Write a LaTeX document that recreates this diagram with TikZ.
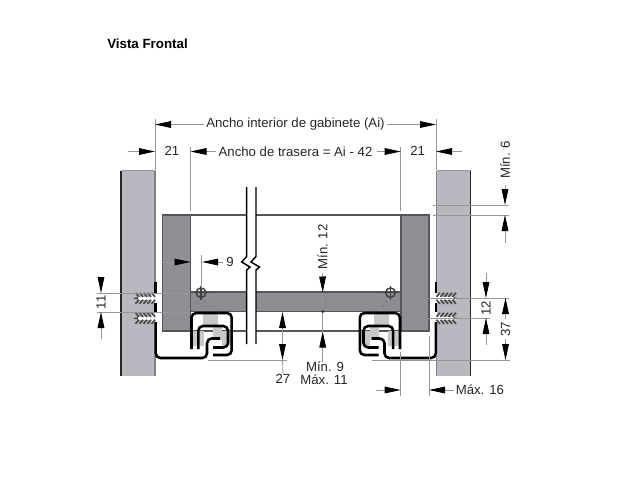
\documentclass[tikz,border=0pt]{standalone}
\usepackage{fontspec}
\setmainfont{Liberation Sans}
\usetikzlibrary{arrows.meta}
\definecolor{wallc}{HTML}{B8B8C0}
\definecolor{blockc}{HTML}{909094}
\definecolor{bandc}{HTML}{8C8C92}
\definecolor{railg}{HTML}{C8C8CA}
\definecolor{edgec}{HTML}{55555A}
\definecolor{dimc}{HTML}{969696}
\definecolor{inkc}{HTML}{26262A}
\tikzset{
  x=0.75pt,y=-0.75pt,
  dimline/.style={draw=dimc,line width=0.6pt},
  dimhead/.style={draw=dimc,line width=0.6pt,-{Triangle[length=12pt,width=5pt,color=black,fill=black]}},
  lab/.style={font=\fontsize{9.9pt}{11pt}\selectfont,text=inkc,inner sep=0pt},
  railline/.style={draw=black,line width=1.9pt,rounded corners=3.5pt,line cap=butt},
  outline/.style={draw=edgec,line width=1pt},
}
\newcommand{\myscrew}[1]{%
  \fill[white] (136,#1-1.3) rectangle (161,#1+1.3);
  \fill[white] (151,#1-4) -- (156,#1-4) -- (161,#1-1.3) -- (161,#1+1.3) -- (156,#1+4) -- (151,#1+4) -- cycle;
  \foreach \sx in {135.5,139.5,143.5,147.5,151.5}{
    \draw[color=black!70,line width=1.3pt] (\sx,#1-5.5) -- (\sx+3.5,#1-1.5);
    \draw[color=black!70,line width=1.3pt] (\sx,#1+5.5) -- (\sx+3.5,#1+1.5);
  }
  \fill[black!70] (133,#1) -- (138,#1-1.5) -- (138,#1+1.5) -- cycle;
}
\newcommand{\myhalf}{%
  % wall
  \fill[wallc] (121,170.5) rectangle (155,376);
  \draw[inkc,line width=1.2pt] (121,170.5) -- (121,376);
  \draw[black!50,line width=0.8pt] (155,170.5) -- (155,282);
  \draw[black!50,line width=0.8pt] (155,355) -- (155,376);
  \draw[black!40,line width=0.5pt] (121,170.5) -- (155,170.5);
  % block
  \fill[blockc] (162.5,215) rectangle (190.5,331);
  \draw[outline] (162.5,331) -- (162.5,215) -- (190.5,215) -- (190.5,331) -- cycle;
  % screws
  \myscrew{298.3}
  \myscrew{318.3}
  % rail light parts
  \fill[railg] (203,314) rectangle (218,325);
  \fill[railg] (192,331) rectangle (204,346);
  \fill[railg] (213,326) rectangle (222,340);
  \fill[railg] (222,331) rectangle (231,346);
  % cabinet member
  \draw[railline] (155.7,322) -- (155.7,358) -- (207,358) -- (207,338.5) -- (220,338.5);
  \draw[draw=black,line width=1.9pt] (155.7,282) -- (155.7,293);
  \draw[draw=black,line width=1.9pt] (155.7,303) -- (155.7,312);
  % drawer member
  \draw[railline] (191.5,349) -- (191.5,313) -- (231.7,313) -- (231.7,355) -- (213,355);
  \draw[railline] (198.3,349) -- (198.3,326) -- (228,326) -- (228,347.5) -- (213,347.5);
  % drilling mark
  \draw[black!75,line width=1.1pt] (201,292.7) circle[radius=4.8];
  \draw[black!75,line width=0.9pt] (193.5,292.7) -- (208.5,292.7) (201,285.5) -- (201,300);
  \fill[black!55] (197,301.5) circle[radius=0.8] (205,301.5) circle[radius=0.8] (208,306) circle[radius=0.8];
}
\begin{document}
\begin{tikzpicture}
\useasboundingbox[fill=white] (0,0) rectangle (640,480);
\node[inner sep=0pt,anchor=west,font=\fontsize{10pt}{11pt}\selectfont\bfseries] (title) at (107,44) {Vista Frontal};

% back panel top, gray band, lower line
\draw[edgec,line width=1.2pt] (190,215) -- (246.7,215) (256,215) -- (401,215);
\fill[bandc] (190,292) rectangle (246.7,311.5);
\fill[bandc] (256,292) rectangle (401,311.5);
\draw[edgec,line width=1pt] (190,292) -- (246.7,292) (256,292) -- (401,292);
\draw[edgec,line width=1pt] (190,311.5) -- (246.7,311.5) (256,311.5) -- (401,311.5);
\draw[edgec,line width=0.9pt] (190,331) -- (246.7,331) (256,331) -- (401,331);

\myhalf
\begin{scope}[shift={(591.5,0)},xscale=-1]
\myhalf
\end{scope}

% break lines
\draw[black,line width=1.1pt,line join=miter]
  (246.7,187) -- (246.7,256.5) -- (241.7,262) -- (250,267) -- (246.7,270) -- (246.7,344);
\draw[black,line width=1.1pt,line join=miter]
  (256,187) -- (256,256.5) -- (251,262) -- (259.5,267) -- (256,270) -- (256,344);

% extension lines
\draw[dimline] (155,119) -- (155,170);
\draw[dimline] (436,119) -- (436,170);
\draw[dimline] (190.5,147) -- (190.5,211);
\draw[dimline] (400.7,147) -- (400.7,211);
\draw[dimline] (433,205) -- (509,205);
\draw[dimline] (433,215) -- (509,215);
\draw[dimline] (97,293) -- (190,293);
\draw[dimline] (97,312) -- (190,312);
\draw[dimline] (428,298) -- (509,298);
\draw[dimline] (428,318) -- (490,318);
\draw[dimline] (208,360) -- (287,360);
\draw[dimline] (372,360) -- (510,360);
\draw[dimline] (201,255) -- (201,288);
\draw[dimline] (400.7,352) -- (400.7,396);
\draw[dimline] (429,336) -- (429,396);

% top dimensions
\node[lab] (ai) at (295.5,124.5) {Ancho interior de gabinete (Ai)};
\coordinate (aiL) at (155,124.5); \coordinate (aiR) at (436,124.5);
\draw[dimhead] (ai.west) ++(-2,0) -- (aiL);
\draw[dimhead] (ai.east) ++(2,0) -- (aiR);
\node[lab] (tras) at (295.5,151.5) {Ancho de trasera = Ai - 42};
\coordinate (trL) at (190.5,151.5); \coordinate (trR) at (400.7,151.5);
\draw[dimhead] (tras.west) ++(-2,0) -- (trL);
\draw[dimhead] (tras.east) ++(4,0) -- (trR);
\node[lab] (a21) at (172,151) {21};
\node[lab] (b21) at (417.7,151) {21};
\coordinate (a21t) at (128,151.5); \coordinate (a21h) at (155,151.5);
\coordinate (b21t) at (462,151.5); \coordinate (b21h) at (436,151.5);
\draw[dimhead] (a21t) -- (a21h);
\draw[dimhead] (b21t) -- (b21h);

% Min 6
\node[lab,rotate=90] (min6) at (505,160) {Mín. 6};
\coordinate (m6a) at (505,205); \coordinate (m6b) at (505,215); \coordinate (m6c) at (505,243);
\draw[dimhead] (min6.west) ++(0,6) -- (m6a);
\draw[dimhead] (m6c) -- (m6b);

% 9
\node[lab] (n9) at (230,262) {9};
\coordinate (n9a) at (162,262); \coordinate (n9b) at (190.5,262); \coordinate (n9c) at (202,262);
\draw[dimhead] (n9a) -- (n9b);
\draw[dimhead] (n9.west) ++(-3,0) -- (n9c);

% 11
\node[lab,rotate=90] (n11) at (101,302.5) {11};
\coordinate (n11a) at (101,277); \coordinate (n11b) at (101,293);
\coordinate (n11c) at (101,339); \coordinate (n11d) at (101,312);
\draw[dimhead] (n11a) -- (n11b);
\draw[dimhead] (n11c) -- (n11d);

% 12 right
\node[lab,rotate=90] (n12) at (486,308) {12};
\coordinate (n12a) at (486,273); \coordinate (n12b) at (486,298);
\coordinate (n12c) at (486,345); \coordinate (n12d) at (486,318);
\draw[dimhead] (n12a) -- (n12b);
\draw[dimhead] (n12c) -- (n12d);

% 37
\node[lab,rotate=90] (n37) at (505.5,329) {37};
\coordinate (n37a) at (505.5,298); \coordinate (n37b) at (505.5,360);
\draw[dimhead] (n37.east) ++(0,-2) -- (n37a);
\draw[dimhead] (n37.west) ++(0,2) -- (n37b);

% 27
\node[lab] (n27) at (283,379) {27};
\coordinate (n27a) at (282.5,312); \coordinate (n27b) at (282.5,360); \coordinate (n27m) at (282.5,336);
\draw[dimhead] (n27m) -- (n27a);
\draw[dimhead] (n27m) -- (n27b);
\draw[dimline] (n27b) -- (n27.north);

% centre
\node[lab,rotate=90] (min12) at (322.5,247) {Mín. 12};
\node[lab] (min9) at (325,367) {Mín. 9};
\node[lab] (max11) at (324,379.5) {Máx. 11};
\coordinate (ca) at (322.7,292.5); \coordinate (cd) at (322.7,311.5); \coordinate (cb) at (322.7,331.5);
\draw[dimhead] (min12.west) ++(0,3) -- (ca);
\draw[dimhead] (min9.north -| cb) -- (cb);
\draw[dimline] (ca) -- (cb);
\fill[black!80] (cd) circle[radius=1.6];

% Max 16
\node[lab,anchor=west] (max16) at (455.5,390) {Máx. 16};
\coordinate (d1) at (376,390); \coordinate (d2) at (400.7,390); \coordinate (d3) at (429,390);
\draw[dimhead] (d1) -- (d2);
\draw[dimhead] (max16.west) ++(-2,0) -- (d3);
\end{tikzpicture}
\end{document}
